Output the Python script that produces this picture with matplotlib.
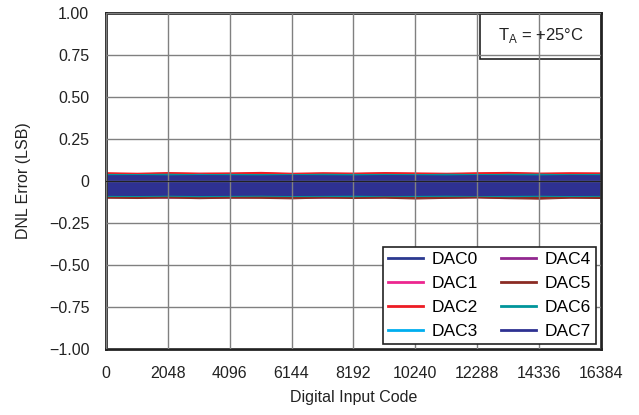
"""
DNL error vs digital input code, 8 DAC channels, T_A = +25 °C.
Each channel is drawn as the envelope (min / max DNL) read off the chart.
"""
import matplotlib
matplotlib.use("Agg")
import matplotlib.pyplot as plt
from matplotlib.lines import Line2D
from matplotlib.patches import Rectangle

plt.rcParams["font.family"] = ["Liberation Sans", "DejaVu Sans"]
plt.rcParams["axes.unicode_minus"] = True

# codes where the envelope was read (every 1024 codes)
codes = [0, 1024, 2048, 3072, 4096, 5120, 6144, 7168, 8192,
         9216, 10240, 11264, 12288, 13312, 14336, 15360, 16383]

dac_names = ["DAC0", "DAC1", "DAC2", "DAC3", "DAC4", "DAC5", "DAC6", "DAC7"]
dac_colors = ["#2b3990", "#ec268f", "#ed1c24", "#00aeef",
              "#92278f", "#8b2b24", "#00959a", "#2e3192"]

# upper / lower DNL envelope per channel (LSB)
upper = {
    "DAC0": [0.036, 0.035, 0.037, 0.034, 0.036, 0.035, 0.037, 0.035, 0.036,
             0.034, 0.036, 0.035, 0.037, 0.035, 0.036, 0.034, 0.036],
    "DAC1": [0.044, 0.046, 0.043, 0.045, 0.047, 0.044, 0.045, 0.043, 0.046,
             0.044, 0.045, 0.047, 0.043, 0.045, 0.044, 0.046, 0.045],
    "DAC2": [0.052, 0.049, 0.053, 0.050, 0.051, 0.054, 0.049, 0.052, 0.050,
             0.053, 0.051, 0.049, 0.052, 0.054, 0.050, 0.052, 0.051],
    "DAC3": [0.040, 0.041, 0.039, 0.042, 0.040, 0.039, 0.041, 0.040, 0.042,
             0.039, 0.041, 0.040, 0.039, 0.042, 0.040, 0.041, 0.040],
    "DAC4": [0.036, 0.037, 0.035, 0.036, 0.037, 0.035, 0.036, 0.037, 0.035,
             0.036, 0.037, 0.035, 0.036, 0.037, 0.035, 0.036, 0.036],
    "DAC5": [0.038, 0.037, 0.039, 0.036, 0.038, 0.037, 0.039, 0.038, 0.036,
             0.038, 0.037, 0.039, 0.036, 0.038, 0.037, 0.039, 0.038],
    "DAC6": [0.042, 0.041, 0.043, 0.040, 0.042, 0.041, 0.040, 0.043, 0.041,
             0.042, 0.040, 0.043, 0.041, 0.042, 0.043, 0.040, 0.042],
    "DAC7": [0.034, 0.035, 0.033, 0.035, 0.034, 0.033, 0.035, 0.034, 0.033,
             0.035, 0.034, 0.033, 0.035, 0.034, 0.033, 0.035, 0.034],
}
lower = {
    "DAC0": [-0.083, -0.084, -0.082, -0.085, -0.083, -0.084, -0.082, -0.083, -0.085,
             -0.083, -0.084, -0.082, -0.083, -0.085, -0.084, -0.083, -0.084],
    "DAC1": [-0.090, -0.092, -0.089, -0.091, -0.090, -0.092, -0.089, -0.091, -0.090,
             -0.092, -0.089, -0.091, -0.093, -0.090, -0.091, -0.089, -0.091],
    "DAC2": [-0.093, -0.091, -0.094, -0.092, -0.095, -0.091, -0.093, -0.092, -0.094,
             -0.091, -0.093, -0.095, -0.092, -0.093, -0.091, -0.094, -0.092],
    "DAC3": [-0.087, -0.088, -0.086, -0.088, -0.087, -0.086, -0.088, -0.087, -0.086,
             -0.088, -0.087, -0.086, -0.088, -0.087, -0.086, -0.088, -0.087],
    "DAC4": [-0.097, -0.095, -0.099, -0.096, -0.098, -0.095, -0.097, -0.099, -0.096,
             -0.097, -0.095, -0.098, -0.096, -0.099, -0.095, -0.097, -0.096],
    "DAC5": [-0.099, -0.101, -0.098, -0.102, -0.099, -0.100, -0.103, -0.098, -0.101,
             -0.099, -0.104, -0.100, -0.098, -0.102, -0.105, -0.099, -0.101],
    "DAC6": [-0.088, -0.089, -0.087, -0.090, -0.088, -0.087, -0.089, -0.088, -0.090,
             -0.087, -0.089, -0.088, -0.087, -0.090, -0.088, -0.089, -0.088],
    "DAC7": [-0.082, -0.083, -0.081, -0.083, -0.082, -0.081, -0.083, -0.082, -0.081,
             -0.083, -0.082, -0.081, -0.083, -0.082, -0.081, -0.083, -0.082],
}

x_ticks = [0, 2048, 4096, 6144, 8192, 10240, 12288, 14336, 16384]
y_ticks = [1.00, 0.75, 0.50, 0.25, 0.0, -0.25, -0.50, -0.75, -1.00]
y_tick_labels = ["1.00", "0.75", "0.50", "0.25", "0",
                 "\u22120.25", "\u22120.50", "\u22120.75", "\u22121.00"]

INK = "#222222"

fig = plt.figure(figsize=(6.39, 4.15), dpi=100)
ax = fig.add_axes([0.1659, 0.159, 0.7746, 0.8097])

for name, color in zip(dac_names, dac_colors):
    ax.fill_between(codes, lower[name], upper[name], color=color,
                    linewidth=0.8, edgecolor=color, zorder=1)

ax.axhline(0, color=INK, linewidth=0.8, zorder=2.6)

ax.set_xlim(0, 16384)
ax.set_ylim(-1.0, 1.0)
ax.set_xticks(x_ticks)
ax.set_xticklabels([str(t) for t in x_ticks])
ax.set_yticks(y_ticks)
ax.set_yticklabels(y_tick_labels)
ax.tick_params(length=0, pad=12, labelsize=11.5, colors=INK)

ax.set_axisbelow(False)
ax.grid(True, color="#808080", linewidth=1.0)
for sp in ax.spines.values():
    sp.set_linewidth(2.0)
    sp.set_color(INK)

ax.set_xlabel("Digital Input Code", fontsize=11.5, labelpad=7, color=INK)
ax.set_ylabel("DNL Error (LSB)", fontsize=11.5, labelpad=13, color=INK)

# temperature box in the top-right corner
ax.add_patch(Rectangle((0.7556, 0.863), 0.2444, 0.137, transform=ax.transAxes,
                       facecolor="white", edgecolor=INK, linewidth=1.2,
                       zorder=1.5, clip_on=False))
ax.text(0.878, 0.932, r"T$_\mathregular{A}$ = +25°C", transform=ax.transAxes,
        ha="center", va="center", fontsize=12, color=INK, zorder=3)

handles = [Line2D([0], [0], color=c, linewidth=2) for c in dac_colors]
leg = ax.legend(handles, dac_names, ncol=2, loc="lower right", fontsize=12.5,
                frameon=True, fancybox=False, handlelength=2.0,
                columnspacing=1.3, labelspacing=0.5, borderaxespad=0.3,
                handletextpad=0.5, borderpad=0.3, framealpha=1.0)
leg.get_frame().set_edgecolor(INK)
leg.get_frame().set_linewidth(1.2)

fig.savefig("out.png", dpi=100)
